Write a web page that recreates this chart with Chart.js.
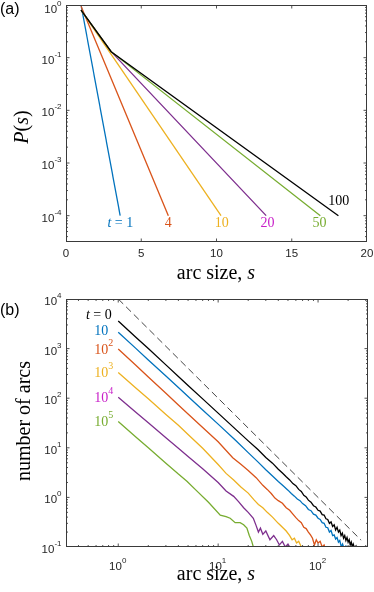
<!DOCTYPE html>
<html><head><meta charset="utf-8">
<script src="https://cdn.jsdelivr.net/npm/chart.js@4.4.1/dist/chart.umd.min.js"></script>
<style>html,body{margin:0;padding:0;background:#fff;}canvas{display:block;}</style>
</head><body>
<canvas id="ca" width="374" height="290"></canvas>
<canvas id="cb" width="374" height="302"></canvas>
<script>
// ---------- Panel (a) data: P(s) vs arc size s ----------
const aT100 = [[1,0.8],[3,0.13],[18.1,1e-4]];
const aT50  = [[1,0.8],[3,0.13],[16.9,1e-4]];
const aT20  = [[1,0.8],[3,0.13],[13.3,1e-4]];
const aT10  = [[1,0.8],[10.3,1e-4]];
const aT4   = [[1,0.95],[6.8,1e-4]];
const aT1   = [[1,1.0],[3.6,1e-4]];
const aXTicks = [0,5,10,15,20];
const aYExps  = [0,-1,-2,-3,-4];

// ---------- Panel (b) data: number of arcs vs arc size ----------
const bT0 = [[1,3600],[1.5,1700],[2,1000],[3,470],[4,275],[5,180],[7,97],[10,50],[15,23.5],[20,13.8],[25,9.2],[30,6.4],[35,4.9],[40,3.7],[44,3.1],[48,2.6],[52,2.25],[56,1.9],[60,1.72],[64,1.45],[68,1.32],[72,1.1],[76,1.02],[80,0.88],[85,0.8],[90,0.68],[95,0.64],[100,0.55],[105,0.53],[110,0.45],[115,0.44],[120,0.37],[125,0.36],[130,0.3],[135,0.32],[140,0.26],[145,0.28],[150,0.22],[155,0.25],[160,0.2],[165,0.22],[170,0.17],[175,0.19],[180,0.15],[185,0.17],[190,0.135],[195,0.155],[200,0.125],[205,0.14],[210,0.11],[215,0.125],[220,0.1],[225,0.115],[232,0.095],[240,0.105],[250,0.085]];
const bT10 = [[1,2140],[1.5,1010],[2,590],[3,280],[4,165],[5,108],[7,58],[10,30],[15,14],[20,8.0],[25,5.2],[30,3.6],[35,2.7],[40,2.1],[45,1.7],[50,1.4],[54,1.2],[58,1.06],[62,0.93],[66,0.86],[70,0.75],[75,0.68],[80,0.57],[85,0.54],[90,0.46],[95,0.44],[100,0.38],[105,0.36],[110,0.31],[115,0.3],[120,0.25],[125,0.245],[130,0.2],[135,0.215],[140,0.17],[145,0.175],[150,0.145],[155,0.155],[160,0.125],[165,0.135],[171,0.1],[176,0.115],[182,0.095],[190,0.105],[200,0.085]];
const bT100 = [[1,980],[1.5,460],[2,268],[3,126],[4,73],[5,48],[7,25.7],[10,13.2],[14,6.3],[17,4.6],[20,3.5],[24,2.5],[28,1.75],[31,1.45],[34,1.2],[37,0.97],[40,0.86],[44,0.76],[48,0.62],[52,0.55],[56,0.46],[60,0.39],[64,0.34],[68,0.31],[72,0.25],[76,0.235],[80,0.2],[84,0.175],[88,0.15],[92,0.11],[96,0.14],[100,0.12],[105,0.13],[110,0.1],[115,0.11],[120,0.085]];
const bT1e3 = [[1,330],[1.5,160],[2,97],[3,47],[4,28.4],[5,18.5],[7,9.8],[10,4.6],[12,3.05],[14.3,2.25],[17,1.6],[20,1.22],[23,0.88],[25.3,0.72],[28,0.62],[31,0.5],[35,0.4],[40,0.3],[44,0.25],[48,0.21],[52,0.17],[55,0.14],[58,0.15],[61,0.12],[64,0.13],[68,0.1],[72,0.088]];
const bT1e4 = [[1,104],[1.5,52],[2,32],[3,16],[4,9.8],[5,6.7],[7,3.8],[10,2.0],[12,1.35],[14.3,1.05],[16,0.82],[18,0.62],[20,0.5],[22.5,0.38],[24,0.27],[25.3,0.2],[26.5,0.24],[28,0.18],[30,0.21],[33,0.14],[36,0.17],[38.5,0.14],[41,0.11],[44,0.13],[47,0.1],[50,0.115],[54,0.088]];
const bT1e5 = [[1,34],[1.5,16.5],[2,10],[3,4.9],[4,2.95],[4.9,2.1],[6,1.4],[8,0.8],[10.5,0.44],[12,0.41],[13.2,0.38],[14.8,0.31],[16.6,0.31],[18,0.28],[19.4,0.24],[20.5,0.17],[21.7,0.13],[22.5,0.1],[23.4,0.085]];
const bGuide = [[1,1e4],[270,0.137]];   // slope -2 reference line
const bXExps = [0,1,2];
const bYExps = [-1,0,1,2,3,4];

const C_BLUE='#0072BD', C_ORANGE='#D95319', C_YELLOW='#EDB120', C_PURPLE='#7E2F8E', C_GREEN='#77AC30', C_MAG='#C81EC8';
const SANS='"Liberation Sans", Arial, Helvetica, sans-serif';
const SERIF='"Liberation Serif", "Times New Roman", serif';
const AXIS='#262626';

function runs(ctx, list, x, y, align){
  let total=0;
  list.forEach(r=>{ctx.font=r.f; r.w=ctx.measureText(r.t).width; total+=r.w;});
  let cx = align==='center'? x-total/2 : align==='right'? x-total : x;
  ctx.textAlign='left'; ctx.textBaseline='alphabetic';
  list.forEach(r=>{ctx.font=r.f; ctx.fillStyle=r.c; ctx.fillText(r.t, cx, y+(r.dy||0)); cx+=r.w;});
}
function frame(chart, xMajor, xMinor, yMajor, yMinor){
  const {ctx, chartArea:a, scales} = chart;
  const L=a.left, R=a.right, T=a.top, B=a.bottom;
  ctx.save();
  ctx.strokeStyle=AXIS; ctx.lineWidth=0.8;
  ctx.beginPath();
  const vt=(v,len)=>{const p=scales.x.getPixelForValue(v); if(p<L+0.5||p>R-0.5)return; ctx.moveTo(p,B);ctx.lineTo(p,B-len);ctx.moveTo(p,T);ctx.lineTo(p,T+len);};
  const ht=(v,len)=>{const p=scales.y.getPixelForValue(v); if(p<T+0.5||p>B-0.5)return; ctx.moveTo(L,p);ctx.lineTo(L+len,p);ctx.moveTo(R,p);ctx.lineTo(R-len,p);};
  xMajor.forEach(v=>vt(v,3.5)); xMinor.forEach(v=>vt(v,2));
  yMajor.forEach(v=>ht(v,3.5)); yMinor.forEach(v=>ht(v,2));
  ctx.stroke();
  ctx.lineWidth=1; ctx.strokeStyle='#3a3a3a';
  ctx.strokeRect(Math.round(L)+0.5, Math.round(T)+0.5, Math.round(R-L)-1, Math.round(B-T)-1);
  ctx.restore();
}
function logMinors(dLo, dHi, lo, hi){
  const out=[];
  for(let d=dLo; d<=dHi; d++) for(let k=2;k<=9;k++){const v=k*Math.pow(10,d); if(v>lo&&v<hi) out.push(v);}
  return out;
}
function rotText(ctx, list, x, y){
  ctx.save(); ctx.translate(x,y); ctx.rotate(-Math.PI/2); runs(ctx, list, 0, 0, 'center'); ctx.restore();
}

const frameA = { id:'frameA', afterDraw(chart){
  const ctx=chart.ctx, sx=chart.scales.x, sy=chart.scales.y;
  const yMin=Math.pow(10,-4.5);
  frame(chart, aXTicks, [], aYExps.map(e=>Math.pow(10,e)), logMinors(-5,-1,yMin,1));
  ctx.save();
  aXTicks.forEach(v=>{ runs(ctx,[{t:String(v),f:'11.5px '+SANS,c:AXIS}], sx.getPixelForValue(v), 257, 'center'); });
  aYExps.forEach(e=>{ const p=sy.getPixelForValue(Math.pow(10,e)); let b=p+6; if(e===0) b=Math.max(b,13);
    runs(ctx,[{t:'10',f:'11.5px '+SANS,c:AXIS},{t:String(e),f:'8px '+SANS,c:AXIS,dy:-7}], 61.5, b, 'right'); });
  runs(ctx,[{t:'arc size, ',f:'20px '+SERIF,c:'#000'},{t:'s',f:'italic 20px '+SERIF,c:'#000'}], 216, 279, 'center');
  rotText(ctx,[{t:'P',f:'italic 20px '+SERIF,c:'#000'},{t:'(',f:'20px '+SERIF,c:'#000'},{t:'s',f:'italic 20px '+SERIF,c:'#000'},{t:')',f:'20px '+SERIF,c:'#000'}], 28, 127);
  runs(ctx,[{t:'(a)',f:'16px '+SANS,c:'#000'}], 0, 13.5, 'left');
  const F='14px '+SERIF;
  runs(ctx,[{t:'t',f:'italic '+F,c:C_BLUE},{t:' = 1',f:F,c:C_BLUE}], 120.3, 226.5, 'center');
  runs(ctx,[{t:'4',f:F,c:C_ORANGE}], 168.3, 226.5, 'center');
  runs(ctx,[{t:'10',f:F,c:C_YELLOW}], 221.7, 226.5, 'center');
  runs(ctx,[{t:'20',f:F,c:C_MAG}], 267.5, 226.5, 'center');
  runs(ctx,[{t:'50',f:F,c:C_GREEN}], 319.5, 227, 'center');
  runs(ctx,[{t:'100',f:F,c:'#000'}], 338.8, 205, 'center');
  ctx.restore();
}};

const frameB = { id:'frameB', afterDraw(chart){
  const ctx=chart.ctx, sx=chart.scales.x, sy=chart.scales.y;
  const xLo=Math.pow(10,-0.5), xHi=Math.pow(10,2.5);
  frame(chart, bXExps.map(e=>Math.pow(10,e)), logMinors(-1,2,xLo,xHi), bYExps.map(e=>Math.pow(10,e)), logMinors(-1,3,0.1,1e4));
  ctx.save();
  bXExps.forEach(e=>{ runs(ctx,[{t:'10',f:'11.5px '+SANS,c:AXIS},{t:String(e),f:'8px '+SANS,c:AXIS,dy:-7}], sx.getPixelForValue(Math.pow(10,e))-0.5, 280, 'center'); });
  bYExps.forEach(e=>{ const p=sy.getPixelForValue(Math.pow(10,e));
    runs(ctx,[{t:'10',f:'11.5px '+SANS,c:AXIS},{t:String(e),f:'8px '+SANS,c:AXIS,dy:-7}], 61.5, p+6, 'right'); });
  runs(ctx,[{t:'arc size, ',f:'20px '+SERIF,c:'#000'},{t:'s',f:'italic 20px '+SERIF,c:'#000'}], 216, 290, 'center');
  rotText(ctx,[{t:'number of arcs',f:'20px '+SERIF,c:'#000'}], 30, 131);
  runs(ctx,[{t:'(b)',f:'16px '+SANS,c:'#000'}], 0, 25, 'left');
  const F='14px '+SERIF, S='10px '+SERIF;
  runs(ctx,[{t:'t',f:'italic '+F,c:'#000'},{t:' = 0',f:F,c:'#000'}], 111.7, 28.5, 'right');
  runs(ctx,[{t:'10',f:F,c:C_BLUE}], 94.3, 45, 'left');
  runs(ctx,[{t:'10',f:F,c:C_ORANGE},{t:'2',f:S,c:C_ORANGE,dy:-8}], 94.3, 64, 'left');
  runs(ctx,[{t:'10',f:F,c:C_YELLOW},{t:'3',f:S,c:C_YELLOW,dy:-8}], 94.3, 87.3, 'left');
  runs(ctx,[{t:'10',f:F,c:C_MAG},{t:'4',f:S,c:C_MAG,dy:-8}], 94.3, 111.7, 'left');
  runs(ctx,[{t:'10',f:F,c:C_GREEN},{t:'5',f:S,c:C_GREEN,dy:-8}], 94.3, 135.7, 'left');
  ctx.restore();
}};

const toXY = arr => arr.map(p=>({x:p[0], y:p[1]}));
const lineDs = (arr,color,extra) => Object.assign({data:toXY(arr), borderColor:color, borderWidth:1.3, pointRadius:0, tension:0, fill:false}, extra||{});
const hidden = {ticks:{display:false}, grid:{display:false}, border:{display:false}};

new Chart(document.getElementById('ca'), {
  type:'line',
  data:{datasets:[
    lineDs(aT100,'#000000'), lineDs(aT50,C_GREEN), lineDs(aT20,C_PURPLE),
    lineDs(aT10,C_YELLOW), lineDs(aT4,C_ORANGE), lineDs(aT1,C_BLUE)
  ]},
  options:{
    responsive:false, animation:false, events:[],
    layout:{padding:{top:5,right:7,bottom:0,left:0}},
    plugins:{legend:{display:false}, tooltip:{enabled:false}},
    scales:{
      x:Object.assign({type:'linear',min:0,max:20, afterFit(s){s.height=48;}}, hidden),
      y:Object.assign({type:'logarithmic',min:Math.pow(10,-4.5),max:1, afterFit(s){s.width=66;}}, hidden)
    }
  },
  plugins:[frameA]
});

new Chart(document.getElementById('cb'), {
  type:'line',
  data:{datasets:[
    lineDs(bGuide,'#444444',{borderWidth:1, borderDash:[7,4]}),
    lineDs(bT0,'#000000'), lineDs(bT10,C_BLUE), lineDs(bT100,C_ORANGE),
    lineDs(bT1e3,C_YELLOW), lineDs(bT1e4,C_PURPLE), lineDs(bT1e5,C_GREEN)
  ]},
  options:{
    responsive:false, animation:false, events:[],
    layout:{padding:{top:9,right:6,bottom:0,left:0}},
    plugins:{legend:{display:false}, tooltip:{enabled:false}},
    scales:{
      x:Object.assign({type:'logarithmic',min:Math.pow(10,-0.5),max:Math.pow(10,2.5), afterFit(s){s.height=45;}}, hidden),
      y:Object.assign({type:'logarithmic',min:0.1,max:1e4, afterFit(s){s.width=66;}}, hidden)
    }
  },
  plugins:[frameB]
});
</script>
</body></html>
